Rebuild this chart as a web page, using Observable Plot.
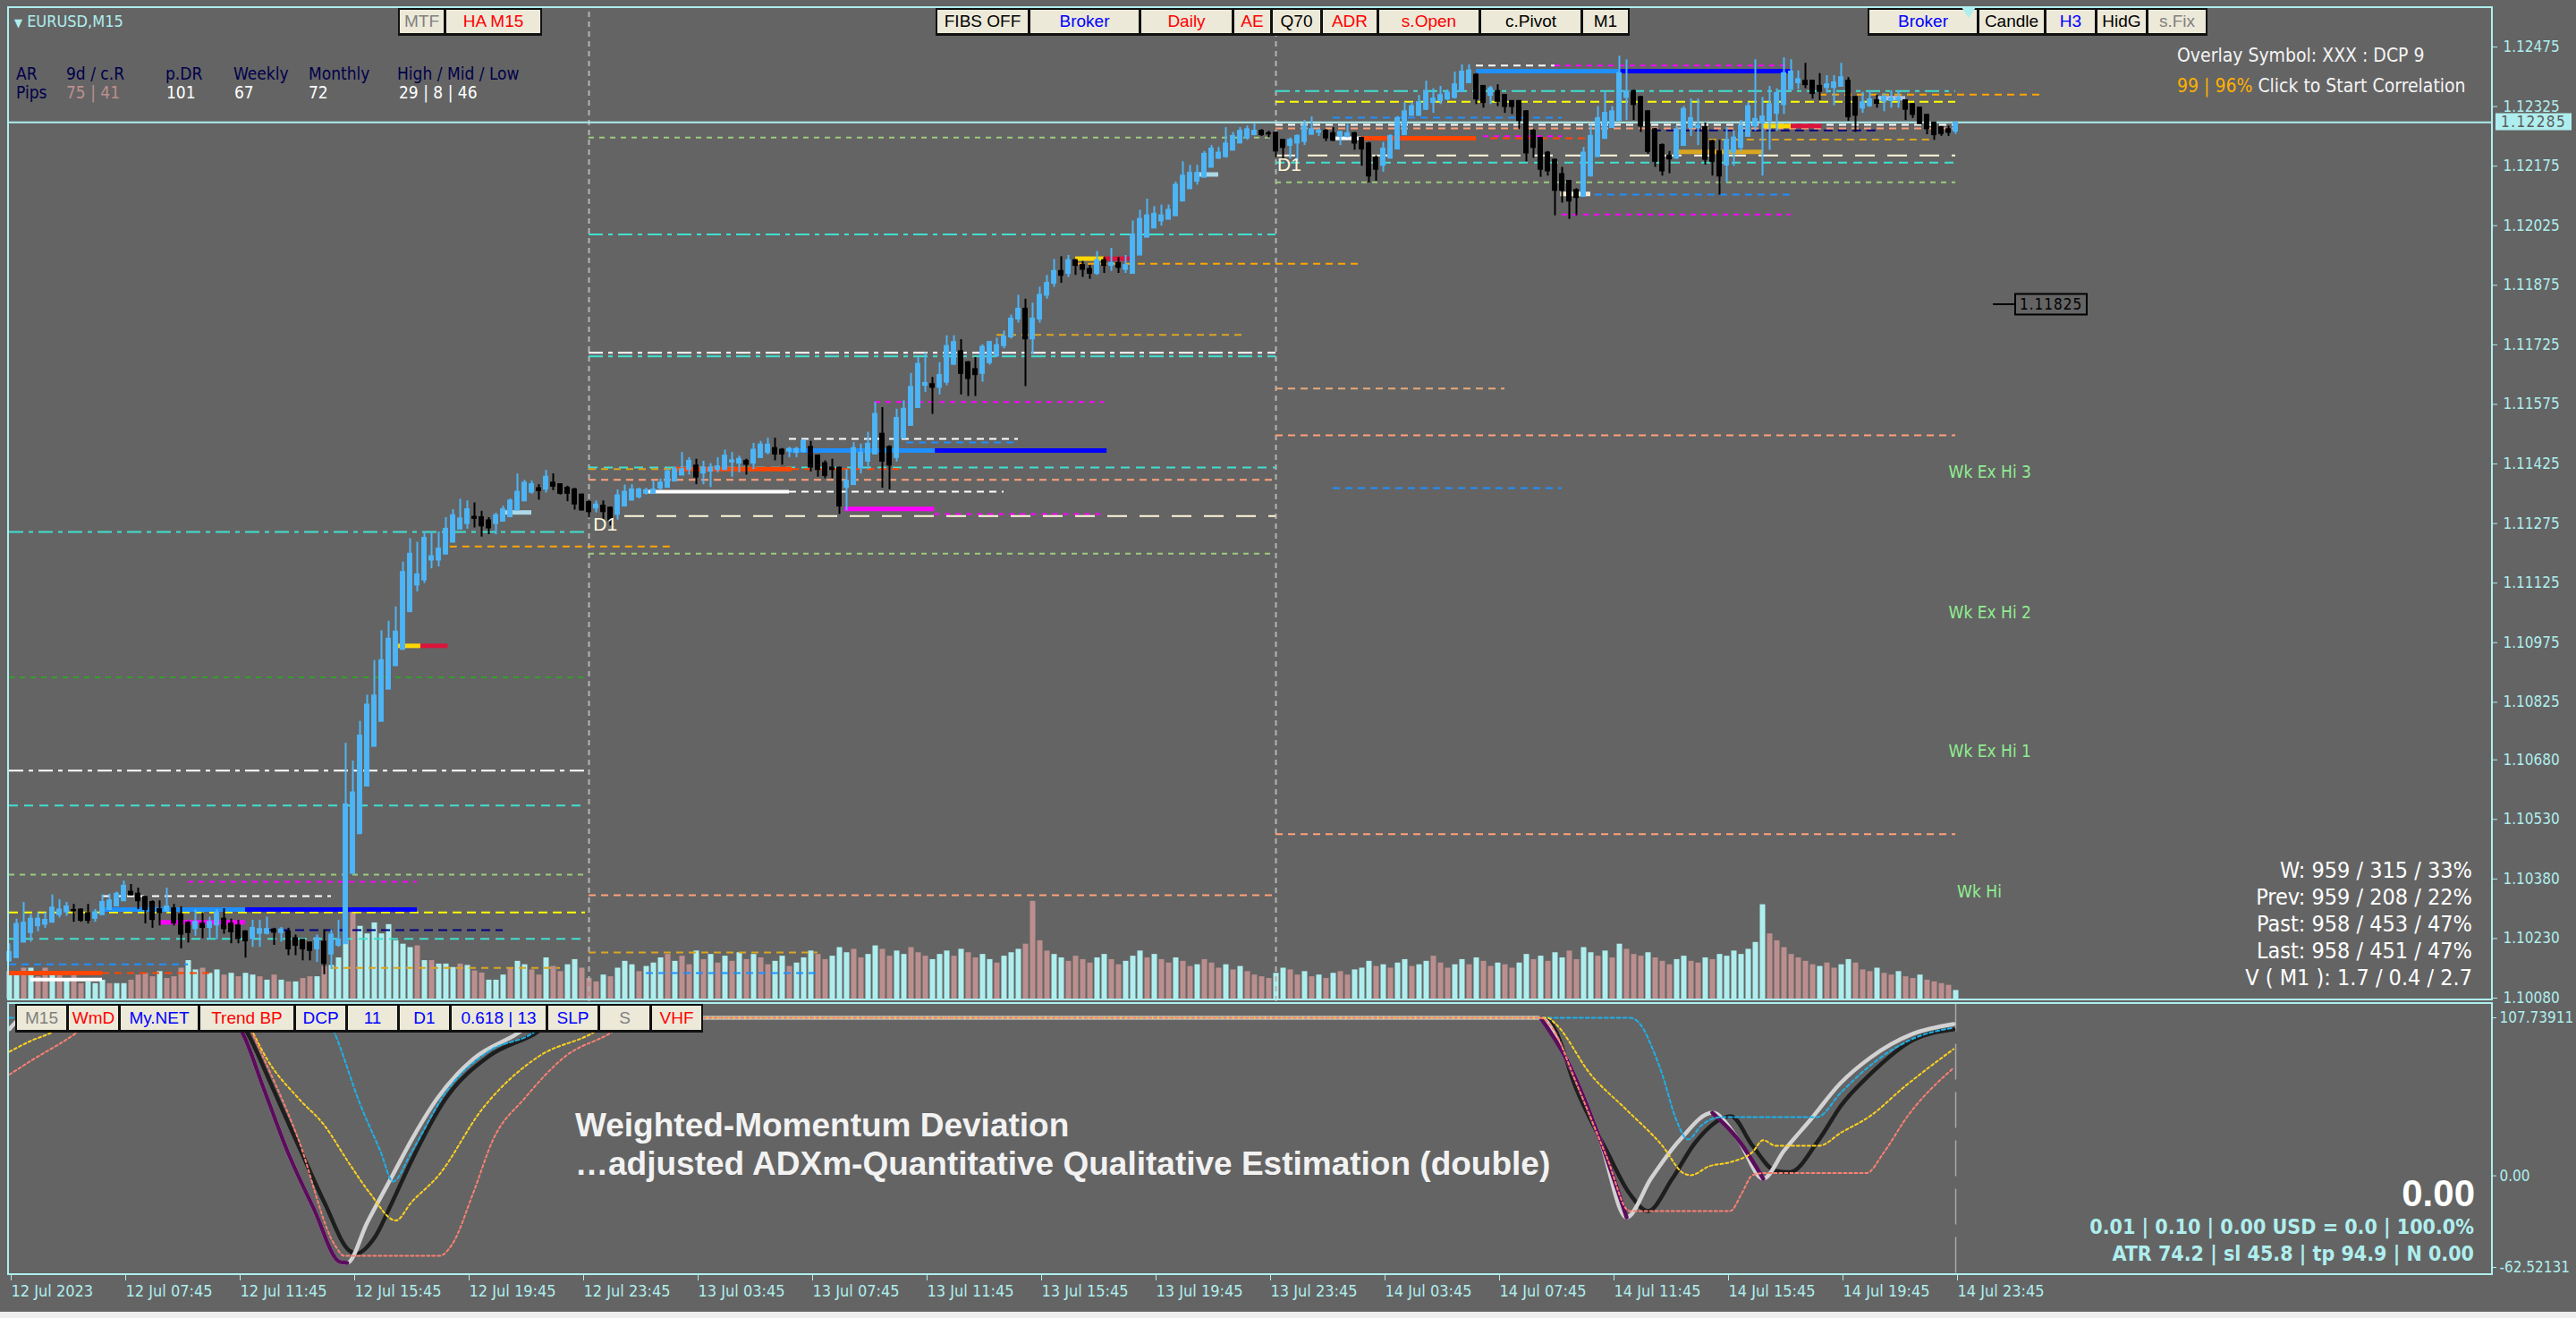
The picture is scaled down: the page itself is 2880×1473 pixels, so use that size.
<!DOCTYPE html>
<html><head><meta charset="utf-8">
<script src="https://cdn.jsdelivr.net/npm/d3@7"></script>
<script src="https://cdn.jsdelivr.net/npm/@observablehq/plot@0.6"></script>
<style>
html,body{margin:0;padding:0;background:#646464;}
#wrap{position:relative;width:2880px;height:1473px;overflow:hidden;background:#646464;font-family:"Liberation Sans",Arial,sans-serif;}
#wrap svg{position:absolute;left:0;top:0;}
.t{position:absolute;white-space:nowrap;line-height:1;}
.btn{position:absolute;box-sizing:border-box;background:#ECE9D8;border:2px solid #111;border-bottom-width:3px;text-align:center;font-size:19px;font-family:"Liberation Sans Narrow","Liberation Sans",Arial,sans-serif;display:flex;align-items:center;justify-content:center;}
.frame{position:absolute;box-sizing:border-box;border:2px solid #AFEEEE;}
</style></head>
<body><div id="wrap"></div>
<script>
// ---------------- DATA ----------------
const open = [1.10174,1.10182,1.10221,1.10245,1.10262,1.10266,1.10271,1.10290,1.10297,1.10301,
1.10302,1.10293,1.10281,1.10290,1.10303,1.10312,1.10325,1.10347,1.10342,1.10334,
1.10321,1.10303,1.10299,1.10305,1.10290,1.10269,1.10255,1.10267,1.10258,1.10264,
1.10279,1.10267,1.10262,1.10247,1.10230,1.10243,1.10243,1.10252,1.10245,1.10247,
1.10230,1.10226,1.10219,1.10204,1.10221,1.10191,1.10213,1.10217,1.10394,1.10494,
1.10614,1.10714,1.10777,1.10858,1.10917,1.10958,1.11053,1.11120,1.11133,1.11183,
1.11183,1.11198,1.11228,1.11261,1.11275,1.11291,1.11290,1.11282,1.11275,1.11281,
1.11292,1.11309,1.11332,1.11354,1.11363,1.11362,1.11377,1.11373,1.11364,1.11360,
1.11347,1.11328,1.11314,1.11319,1.11314,1.11298,1.11319,1.11334,1.11342,1.11351,
1.11351,1.11364,1.11366,1.11382,1.11397,1.11411,1.11420,1.11402,1.11407,1.11411,
1.11411,1.11430,1.11427,1.11432,1.11427,1.11441,1.11454,1.11464,1.11460,1.11457,
1.11454,1.11457,1.11467,1.11445,1.11426,1.11415,1.11415,1.11366,1.11373,1.11415,
1.11432,1.11450,1.11500,1.11467,1.11441,1.11490,1.11522,1.11567,1.11623,1.11625,
1.11618,1.11631,1.11676,1.11708,1.11680,1.11663,1.11653,1.11680,1.11697,1.11723,
1.11745,1.11790,1.11815,1.11740,1.11790,1.11850,1.11880,1.11910,1.11905,1.11937,
1.11925,1.11915,1.11905,1.11937,1.11925,1.11930,1.11915,1.11905,1.11951,1.11996,
1.12019,1.12037,1.12041,1.12050,1.12087,1.12118,1.12137,1.12147,1.12172,1.12195,
1.12199,1.12215,1.12233,1.12246,1.12254,1.12263,1.12257,1.12258,1.12240,1.12227,
1.12233,1.12237,1.12255,1.12260,1.12263,1.12257,1.12250,1.12250,1.12257,1.12245,
1.12231,1.12195,1.12177,1.12195,1.12218,1.12254,1.12303,1.12303,1.12318,1.12335,
1.12340,1.12344,1.12348,1.12363,1.12385,1.12404,1.12376,1.12353,1.12363,1.12353,
1.12338,1.12338,1.12312,1.12263,1.12245,1.12208,1.12190,1.12154,1.12137,1.12114,
1.12099,1.12150,1.12199,1.12245,1.12272,1.12290,1.12348,1.12363,1.12348,1.12312,
1.12267,1.12227,1.12201,1.12195,1.12227,1.12272,1.12272,1.12272,1.12237,1.12212,
1.12178,1.12210,1.12222,1.12250,1.12276,1.12284,1.12290,1.12308,1.12330,1.12368,
1.12385,1.12389,1.12389,1.12376,1.12373,1.12373,1.12376,1.12389,1.12348,1.12321,
1.12327,1.12340,1.12338,1.12340,1.12342,1.12340,1.12330,1.12321,1.12303,1.12284,
1.12272,1.12267,1.12263];
const high = [1.10217,1.10279,1.10321,1.10290,1.10295,1.10295,1.10340,1.10328,1.10321,1.10316,
1.10305,1.10316,1.10303,1.10340,1.10342,1.10347,1.10375,1.10366,1.10357,1.10338,
1.10325,1.10325,1.10357,1.10316,1.10310,1.10273,1.10302,1.10295,1.10284,1.10303,
1.10305,1.10279,1.10276,1.10250,1.10276,1.10276,1.10284,1.10256,1.10258,1.10256,
1.10239,1.10227,1.10221,1.10239,1.10252,1.10252,1.10276,1.10722,1.10677,1.10777,
1.10843,1.10930,1.11005,1.11029,1.11065,1.11178,1.11237,1.11228,1.11254,1.11254,
1.11254,1.11290,1.11310,1.11336,1.11332,1.11327,1.11306,1.11290,1.11301,1.11319,
1.11337,1.11400,1.11384,1.11382,1.11373,1.11409,1.11400,1.11375,1.11369,1.11364,
1.11349,1.11332,1.11332,1.11332,1.11317,1.11360,1.11372,1.11373,1.11364,1.11364,
1.11382,1.11387,1.11412,1.11418,1.11454,1.11441,1.11437,1.11432,1.11426,1.11441,
1.11460,1.11454,1.11445,1.11437,1.11477,1.11482,1.11490,1.11490,1.11464,1.11467,
1.11467,1.11486,1.11482,1.11448,1.11433,1.11437,1.11417,1.11411,1.11479,1.11475,
1.11505,1.11580,1.11567,1.11471,1.11563,1.11584,1.11653,1.11693,1.11704,1.11643,
1.11680,1.11748,1.11748,1.11738,1.11683,1.11693,1.11725,1.11734,1.11742,1.11760,
1.11800,1.11850,1.11840,1.11830,1.11870,1.11900,1.11940,1.11947,1.11950,1.11940,
1.11935,1.11925,1.11960,1.11945,1.11968,1.11945,1.11950,1.12037,1.12064,1.12092,
1.12073,1.12077,1.12077,1.12135,1.12186,1.12177,1.12177,1.12212,1.12227,1.12222,
1.12272,1.12260,1.12272,1.12276,1.12282,1.12267,1.12263,1.12261,1.12242,1.12246,
1.12254,1.12290,1.12299,1.12269,1.12267,1.12272,1.12263,1.12280,1.12260,1.12248,
1.12235,1.12201,1.12235,1.12254,1.12300,1.12335,1.12335,1.12353,1.12389,1.12370,
1.12376,1.12367,1.12412,1.12430,1.12430,1.12408,1.12378,1.12376,1.12380,1.12355,
1.12340,1.12340,1.12315,1.12267,1.12248,1.12212,1.12193,1.12172,1.12139,1.12118,
1.12222,1.12278,1.12325,1.12363,1.12325,1.12452,1.12443,1.12367,1.12351,1.12315,
1.12270,1.12231,1.12212,1.12276,1.12325,1.12344,1.12344,1.12284,1.12240,1.12240,
1.12272,1.12263,1.12290,1.12335,1.12443,1.12348,1.12376,1.12370,1.12448,1.12443,
1.12415,1.12434,1.12391,1.12408,1.12403,1.12403,1.12434,1.12398,1.12351,1.12361,
1.12365,1.12353,1.12358,1.12365,1.12365,1.12342,1.12333,1.12323,1.12305,1.12285,
1.12275,1.12276,1.12285];
const low = [1.10170,1.10181,1.10221,1.10221,1.10247,1.10256,1.10271,1.10282,1.10286,1.10271,
1.10271,1.10267,1.10271,1.10290,1.10302,1.10310,1.10325,1.10338,1.10303,1.10267,
1.10256,1.10262,1.10295,1.10262,1.10204,1.10219,1.10236,1.10230,1.10227,1.10227,
1.10241,1.10217,1.10217,1.10181,1.10208,1.10208,1.10239,1.10213,1.10221,1.10187,
1.10187,1.10174,1.10174,1.10170,1.10139,1.10152,1.10208,1.10217,1.10394,1.10494,
1.10614,1.10714,1.10777,1.10858,1.10917,1.10958,1.11053,1.11103,1.11124,1.11161,
1.11166,1.11198,1.11228,1.11261,1.11261,1.11264,1.11241,1.11247,1.11247,1.11280,
1.11292,1.11309,1.11332,1.11349,1.11334,1.11352,1.11358,1.11347,1.11330,1.11309,
1.11307,1.11289,1.11302,1.11283,1.11269,1.11284,1.11319,1.11332,1.11337,1.11347,
1.11349,1.11360,1.11366,1.11382,1.11396,1.11397,1.11373,1.11373,1.11366,1.11403,
1.11409,1.11392,1.11403,1.11397,1.11411,1.11439,1.11448,1.11433,1.11422,1.11441,
1.11441,1.11452,1.11405,1.11392,1.11388,1.11388,1.11298,1.11307,1.11373,1.11400,
1.11411,1.11448,1.11364,1.11360,1.11430,1.11490,1.11522,1.11567,1.11605,1.11550,
1.11599,1.11622,1.11674,1.11599,1.11595,1.11595,1.11631,1.11674,1.11693,1.11715,
1.11740,1.11780,1.11620,1.11700,1.11780,1.11840,1.11870,1.11880,1.11895,1.11900,
1.11895,1.11890,1.11900,1.11905,1.11910,1.11905,1.11905,1.11905,1.11951,1.11996,
1.12019,1.12024,1.12041,1.12050,1.12087,1.12118,1.12127,1.12147,1.12172,1.12192,
1.12195,1.12215,1.12233,1.12240,1.12254,1.12250,1.12246,1.12197,1.12193,1.12193,
1.12186,1.12227,1.12254,1.12250,1.12237,1.12237,1.12227,1.12246,1.12215,1.12175,
1.12133,1.12137,1.12160,1.12193,1.12216,1.12252,1.12300,1.12300,1.12315,1.12308,
1.12330,1.12340,1.12344,1.12360,1.12383,1.12330,1.12321,1.12330,1.12325,1.12308,
1.12305,1.12267,1.12186,1.12195,1.12147,1.12150,1.12050,1.12082,1.12041,1.12050,
1.12097,1.12148,1.12197,1.12242,1.12270,1.12288,1.12290,1.12290,1.12260,1.12205,
1.12172,1.12150,1.12156,1.12192,1.12225,1.12250,1.12227,1.12178,1.12150,1.12102,
1.12133,1.12175,1.12212,1.12248,1.12263,1.12150,1.12215,1.12263,1.12305,1.12367,
1.12368,1.12370,1.12344,1.12340,1.12359,1.12327,1.12374,1.12288,1.12260,1.12308,
1.12323,1.12321,1.12312,1.12321,1.12321,1.12290,1.12295,1.12280,1.12254,1.12240,
1.12250,1.12250,1.12255];
const close = [1.10195,1.10266,1.10269,1.10279,1.10279,1.10276,1.10307,1.10302,1.10310,1.10300,
1.10276,1.10276,1.10295,1.10321,1.10325,1.10342,1.10362,1.10340,1.10325,1.10303,
1.10278,1.10295,1.10310,1.10269,1.10241,1.10245,1.10271,1.10258,1.10271,1.10295,
1.10255,1.10247,1.10230,1.10224,1.10256,1.10253,1.10253,1.10246,1.10252,1.10204,
1.10213,1.10204,1.10200,1.10230,1.10167,1.10239,1.10227,1.10567,1.10597,1.10740,
1.10818,1.10841,1.10930,1.10984,1.11002,1.11152,1.11198,1.11146,1.11238,1.11192,
1.11211,1.11261,1.11295,1.11287,1.11310,1.11288,1.11269,1.11264,1.11295,1.11310,
1.11332,1.11354,1.11377,1.11373,1.11358,1.11392,1.11369,1.11351,1.11351,1.11324,
1.11309,1.11305,1.11322,1.11305,1.11283,1.11345,1.11354,1.11360,1.11360,1.11358,
1.11360,1.11377,1.11405,1.11411,1.11411,1.11432,1.11392,1.11415,1.11415,1.11418,
1.11445,1.11433,1.11437,1.11424,1.11460,1.11473,1.11473,1.11450,1.11450,1.11462,
1.11462,1.11482,1.11417,1.11411,1.11396,1.11411,1.11319,1.11382,1.11464,1.11452,
1.11475,1.11550,1.11432,1.11422,1.11540,1.11563,1.11618,1.11676,1.11628,1.11618,
1.11648,1.11721,1.11731,1.11653,1.11640,1.11650,1.11719,1.11731,1.11723,1.11745,
1.11790,1.11815,1.11740,1.11790,1.11850,1.11880,1.11910,1.11900,1.11937,1.11925,
1.11915,1.11905,1.11937,1.11925,1.11930,1.11920,1.11925,1.12002,1.12041,1.12050,
1.12054,1.12050,1.12064,1.12127,1.12150,1.12157,1.12157,1.12205,1.12218,1.12208,
1.12231,1.12250,1.12263,1.12267,1.12263,1.12254,1.12256,1.12213,1.12222,1.12240,
1.12250,1.12276,1.12267,1.12263,1.12246,1.12240,1.12260,1.12257,1.12233,1.12218,
1.12150,1.12167,1.12218,1.12250,1.12295,1.12312,1.12325,1.12335,1.12363,1.12344,
1.12353,1.12359,1.12380,1.12412,1.12415,1.12344,1.12335,1.12370,1.12338,1.12325,
1.12325,1.12290,1.12208,1.12222,1.12167,1.12163,1.12114,1.12114,1.12087,1.12096,
1.12208,1.12250,1.12295,1.12308,1.12312,1.12408,1.12363,1.12330,1.12276,1.12212,
1.12187,1.12163,1.12193,1.12267,1.12318,1.12295,1.12276,1.12192,1.12187,1.12150,
1.12240,1.12246,1.12276,1.12325,1.12293,1.12299,1.12330,1.12358,1.12408,1.12412,
1.12393,1.12380,1.12358,1.12363,1.12380,1.12385,1.12398,1.12299,1.12303,1.12335,
1.12342,1.12333,1.12348,1.12344,1.12345,1.12318,1.12305,1.12282,1.12269,1.12254,
1.12257,1.12260,1.12284];
const volume = [800,800,900,900,650,900,700,750,550,750,
450,500,450,550,450,450,450,550,700,750,
650,800,600,650,900,1120,850,900,750,850,
700,750,650,750,700,650,550,700,550,500,
500,600,650,650,950,980,1200,1700,2600,2120,
1900,2220,1900,2170,1700,1600,1500,1550,1120,1120,
1020,1020,920,1020,980,820,760,550,550,700,
900,1100,1000,850,700,1200,950,800,1000,1150,
900,600,500,700,650,900,1100,1000,800,950,
1050,1200,1300,1100,1250,1000,1400,1150,1300,1050,
1250,1100,1350,1150,1300,1200,1000,1100,1250,950,
1050,1200,1400,1300,1150,1250,1500,1350,1450,1200,
1300,1550,1450,1250,1400,1300,1500,1350,1250,1150,
1300,1400,1250,1450,1350,1200,1300,1150,1050,1250,
1350,1450,1600,2850,1700,1400,1300,1200,1100,1250,
1150,1050,1200,1300,1150,1000,1100,1250,1400,1200,
1300,1150,1050,1200,1100,950,1000,1150,1050,900,
1000,850,950,800,700,650,600,750,900,850,
700,800,650,700,600,750,800,700,850,900,
1100,950,1000,900,1050,1150,950,1000,1100,1250,
1050,900,1000,1150,1000,1200,1100,950,1050,1000,
900,1050,1300,1150,1250,1100,1350,1200,1400,1150,
1500,1350,1250,1400,1200,1600,1450,1300,1250,1350,
1200,1100,1000,1150,1250,1100,1050,1200,1150,1300,
1250,1400,1300,1450,1650,2750,1900,1700,1500,1300,
1200,1100,1000,950,1050,900,1000,1150,1050,850,
800,900,750,700,800,650,600,700,550,500,
450,400,250];
// volume bar colour read per bar, ten bars per entry: c = pale cyan, r = rosy
const volumeColourRows = ["ccrcrrcrcr","rcccrccrrr","rcrrrccrcc","rcrccrcrcr","crrcrcccrc","cccccccrcr","cccrcrrccc",
"rccrrcrrcc","rrrcrcccrc","ccrcrrcrcr","crcrcrrccr","cccrrcccrr","ccrrccrrrc","ccrcrrccrc","ccrrrrccrr","rrccrrcccr",
"crrcrrcrrr","crcrrrrccr","rcrcrcrrcc","crcrccrccr","rrccrcrrcr","rccrcrccrr","ccrcrcrrrc","rrrccrrcrc","ccccccrrrr",
"rrrcrrccrr","rcrrcrrcrr","rrc"];

const timeTickBars = [0,16,32,48,64,80,96,112,128,144,160,176,192,208,224,240,256,272];
const timeTickLabels = ["12 Jul 2023","12 Jul 07:45","12 Jul 11:45","12 Jul 15:45","12 Jul 19:45","12 Jul 23:45",
"13 Jul 03:45","13 Jul 07:45","13 Jul 11:45","13 Jul 15:45","13 Jul 19:45","13 Jul 23:45",
"14 Jul 03:45","14 Jul 07:45","14 Jul 11:45","14 Jul 15:45","14 Jul 19:45","14 Jul 23:45"];
const priceTicks = [1.12475,1.12325,1.12175,1.12025,1.11875,1.11725,1.11575,1.11425,1.11275,1.11125,1.10975,1.10825,1.10680,1.10530,1.10380,1.10230,1.10080];
const daySeparators = [81,177];
const lastPrice = 1.12285;
const panelTop = 1.12574, panelBottom = 1.10071;

const levelPrice = [1.11254,1.11217,1.10653,1.10565,1.10888,1.10391,1.10373,1.10337,1.10303,1.10303,1.10296,1.10271,1.10251,1.10229,1.10165,1.10156,1.10143,1.10143,1.10127,1.10967,1.10967,1.11303,
1.12003,1.11705,1.11696,1.11581,1.11488,1.11479,1.11459,1.11459,1.11416,1.11412,1.11412,1.11412,1.11385,1.11355,1.11355,1.11312,1.11299,1.11294,1.11199,1.11929,1.11750,1.12247,1.11942,1.11942,1.12154,1.10339,1.10195,1.10143,
1.12364,1.12337,1.12297,1.12279,1.12270,1.12245,1.12245,1.12245,1.12250,1.12202,1.12184,1.12134,1.12211,1.12265,1.12242,1.12276,1.12276,1.12414,1.12414,1.12428,1.12428,1.12105,1.12103,1.12053,1.12355,1.12346,1.11615,1.11497,1.11364,1.10493];
const levelFrom = [0,61.6,0,0,0,0,25,13,13,33,0,21,36,0,0,45,0,13,3,54,57.5,69,
81,81,81,121,109,125.4,109,129.4,81,81,93,109.4,81,89,109,116.7,129.3,86,81,149,138,81,149,153,166,81,81,89,
177,177,185,177,177,185,189,207,206,177,177,177,233,229.6,237.6,245,249,205,225,205,216,216.8,221.6,217,253,261,177,177,185,177];
const levelTo = [80.5,93,80.5,80.5,80.5,80.5,57,45,33,57,80.5,33,69,80.5,25,77,13,28,13,57.5,61.3,73,
177,177,177,153,141,141,129.4,153.4,177,93,109.4,125,177,109,139,129.3,153,177,177,189,173,177,153,157,169,177,113,113,
272,272,217,272,272,189,205,221,217,272,272,272,245,261,269,249,253.3,225,249,216,249,221,249,249,284,265,209,272,217,272];
const levelKind = ["cyanDashDot","orangeDash","whiteDashDot","cyanDash","greenDash","lightGreenDash","magentaDash","whiteDash","lightBlueThick","blueThick","yellowDash","magentaThick","navyDash","cyanDash","blueDash","goldDash","redThick","redDash","whiteThick","yellowThick","crimsonThick","paleThick",
"cyanDashDot","whiteDashDot","cyanDashDot","magentaDash","whiteDash","blueDash","lightBlueThick","blueThick","cyanDash","goldDash","redThick","redDash","salmonDash","whiteThick","whiteDash","magentaThick","magentaDash","creamDash","lightGreenDash","orangeDash","goldDash","lightGreenDash","yellowThick","crimsonThick","paleThick","salmonDash","goldDash","blueDash",
"cyanDashDot","yellowDash","blueDash","whiteDash","salmonDash","whiteThick","redThick","redDash","magentaDash","creamDash","cyanDash","lightGreenDash","goldThick","navyDash","goldDash","yellowThick","crimsonThick","lightBlueThick","blueThick","whiteDash","magentaDash","creamThick","blueDash","magentaDash","orangeDash","slateThick","peachDash","salmonDash","blueDash","salmonDash"];

const weekLabelText = ["Wk Ex Hi 3","Wk Ex Hi 2","Wk Ex Hi 1","Wk Hi"];
const weekLabelPrice = [1.11403,1.11050,1.10700,1.10348];
const weekLabelBar = [271,271,271,272.2];
const dayLabelBar = [81.6,177.2];
const dayLabelPrice = [1.11272,1.12179];
const markerPrice = 1.11825;

// indicator series: [bar, value]
const mainLine = [[0,100],[2,107.7],[31,107.7],[32.5,98],[35.5,60],[38.9,16.2],[42.5,-22],[46.2,-58.8],[47.2,-59.5],[50,-32],[53.3,-2],[56.5,27],[59.8,52.8],[64.8,79.6],[70.5,95.5],[75,107.7],[214,107.7],[217.6,79.6],[222.3,24.7],[226,-28.3],[229.4,-2],[233.5,24.7],[238,43],[241.6,24.7],[245.1,-2],[248,17],[251.8,38.8],[255.9,63.2],[260,80.3],[266,96.8],[271.7,103.5]];
const slowLine = [[0,100],[2,107.7],[32,107.7],[33.2,98],[36.8,60],[40.4,20.5],[44,-18],[47.5,-51],[48.5,-53],[51,-42.4],[53.5,-18],[56,8.3],[61,52.8],[67,81.5],[73.4,96.8],[77,107.7],[214,107.7],[215.6,103],[219,59],[223.3,16.2],[226.4,-12],[229,-24],[232.4,-2],[235.5,22],[240.6,40.6],[243.6,20.5],[246.8,3.4],[248.8,2.4],[252.9,24.7],[256,48],[260,69],[266,92.5],[271.7,99.8]];
const cyanLine = [[0,107.7],[44.5,107.7],[45.4,98],[49,49.1],[51.9,16.2],[53.6,-3.9],[56.2,16.2],[61,57],[67,85],[73,96.8],[76,107.7],[226.5,107.7],[228.4,99.8],[229.4,89.4],[231,69],[232.9,38.8],[234.6,24.7],[236.5,34.5],[239.3,40],[252.6,40],[256,57],[260,75],[266,93.4],[271.7,101]];
const yellowLine = [[0,84.6],[3,92],[6,98],[9,107.7],[33,107.7],[34,98],[36,79.6],[40.4,52.8],[44,34.5],[47.5,8.3],[50.4,-12],[54,-30.5],[56.2,-18],[60,0.4],[66,45],[74,81.5],[81.3,96.8],[85,107.7],[215,107.7],[216,104],[221,69],[226,45],[231,20.5],[234,1.6],[235,0.4],[237.5,6.4],[240.6,9.4],[243.6,16.2],[245.1,24.3],[246.8,20.5],[252.9,20.5],[256,29.5],[260,40.6],[265,61.4],[271.7,86.4]];
const salmonLine = [[0,69],[3.2,79],[9.5,98],[12,107.7],[33,107.7],[34,96.8],[40.4,24.7],[45.4,-46.6],[46.8,-54.6],[60.1,-54.6],[61.9,-46.6],[64.8,-12],[67.6,24.7],[72,52.8],[77.7,81.5],[84.2,98],[87,107.7],[214,107.7],[215.6,101],[219,63],[223.3,12],[226.4,-24],[240.5,-24],[242.1,-12],[243.6,0.4],[245.1,1.8],[259.5,1.8],[262,16.2],[265,38.8],[271.7,73.6]];
const indTicks = [107.73911, 0, -62.52131];
const indTickLabels = ["107.73911","0.00","-62.52131"];

// ---------------- DRAW ----------------
const wrap = document.getElementById("wrap");
const FONT = "'Liberation Sans', Arial, sans-serif";
const NARROW = "'Liberation Sans Narrow', 'DejaVu Sans Condensed', 'Liberation Sans', sans-serif";
const X = {domain: [0, 272], range: [10, 2186]};
const baseStyle = {background: "transparent", overflow: "visible", fontFamily: NARROW, color: "#AFEEEE"};

const volumeColour = volumeColourRows.join("");
const candles = open.map((o, i) => ({i, o, h: high[i], l: low[i], c: close[i], up: close[i] >= o}));
const vols = volume.map((v, i) => ({i, v, up: volumeColour[i] === "c"}));

const levelStyle = {
  cyanDashDot: {stroke: "#40E0D0", strokeWidth: 2, strokeDasharray: "16,6,5,6"},
  cyanDash: {stroke: "#40E0D0", strokeWidth: 2, strokeDasharray: "10,7"},
  whiteDashDot: {stroke: "#FFFFFF", strokeWidth: 2, strokeDasharray: "16,6,5,6"},
  whiteDash: {stroke: "#FFFFFF", strokeWidth: 2, strokeDasharray: "8,6"},
  yellowDash: {stroke: "#FFFF00", strokeWidth: 2, strokeDasharray: "10,6"},
  greenDash: {stroke: "#34A02A", strokeWidth: 2, strokeDasharray: "6,6"},
  lightGreenDash: {stroke: "#9CCB7C", strokeWidth: 2, strokeDasharray: "6,6"},
  magentaDash: {stroke: "#FF00FF", strokeWidth: 2, strokeDasharray: "6,6"},
  magentaThick: {stroke: "#FF00FF", strokeWidth: 5},
  lightBlueThick: {stroke: "#1E90FF", strokeWidth: 5},
  blueThick: {stroke: "#0000FF", strokeWidth: 5},
  navyDash: {stroke: "#000080", strokeWidth: 2, strokeDasharray: "10,6"},
  blueDash: {stroke: "#1E90FF", strokeWidth: 2, strokeDasharray: "8,6"},
  orangeDash: {stroke: "#FFA500", strokeWidth: 2, strokeDasharray: "8,6"},
  goldDash: {stroke: "#DAA520", strokeWidth: 2, strokeDasharray: "8,6"},
  goldThick: {stroke: "#DAA520", strokeWidth: 5},
  salmonDash: {stroke: "#FFA07A", strokeWidth: 2, strokeDasharray: "8,6"},
  peachDash: {stroke: "#E8A878", strokeWidth: 2, strokeDasharray: "8,6"},
  redThick: {stroke: "#FF4500", strokeWidth: 5},
  redDash: {stroke: "#FF4500", strokeWidth: 2, strokeDasharray: "8,6"},
  crimsonThick: {stroke: "#DC143C", strokeWidth: 5},
  yellowThick: {stroke: "#FFD700", strokeWidth: 5},
  whiteThick: {stroke: "#FFFFFF", strokeWidth: 4},
  creamDash: {stroke: "#FFF8DC", strokeWidth: 2, strokeDasharray: "22,14"},
  creamThick: {stroke: "#FFEBD2", strokeWidth: 5},
  paleThick: {stroke: "#ADD8E6", strokeWidth: 5},
  slateThick: {stroke: "#B0C4DE", strokeWidth: 5}
};
const levels = levelPrice.map((p, k) => ({p, a: levelFrom[k], b: levelTo[k], kind: levelKind[k]}));
const levelMarks = Object.keys(levelStyle).map(kind =>
  Plot.ruleY(levels.filter(d => d.kind === kind), {y: "p", x1: "a", x2: "b", ...levelStyle[kind]}));

const BLUE = "#4DB5F6";
const tickLabelMap = new Map(priceTicks.map(d => [d, d.toFixed(5)]));

// volume layer
const volPlot = Plot.plot({
  width: 2880, height: 1473, marginTop: 0, marginLeft: 9, marginRight: 95, marginBottom: 0,
  x: {...X, axis: null}, y: {domain: [0, 3000], range: [1116, 1001], axis: null},
  style: baseStyle,
  marks: [
    Plot.ruleX(vols, {x: "i", y1: () => 0, y2: "v", stroke: d => d.up ? "#AFEEEE" : "#BC8F8F", strokeWidth: 6})
  ]
});
wrap.appendChild(volPlot);

// price layer
const mainPlot = Plot.plot({
  width: 2880, height: 1473, marginTop: 0, marginLeft: 9, marginRight: 95, marginBottom: 0,
  x: {...X, axis: null}, y: {domain: [1.10080, 1.12475], range: [1115, 52]},
  style: baseStyle,
  marks: [
    Plot.ruleX(daySeparators, {x: d => d, y1: () => panelBottom, y2: () => panelTop, stroke: "#B4B4B4", strokeWidth: 2, strokeDasharray: "6,5"}),
    ...levelMarks,
    Plot.ruleY([lastPrice], {stroke: "#AFEEEE", strokeWidth: 2}),
    Plot.ruleX(candles, {x: "i", y1: "l", y2: "h", stroke: d => d.up ? BLUE : "#000000", strokeWidth: 2}),
    Plot.rect(candles, {x1: d => d.i - 0.37, x2: d => d.i + 0.37, y1: d => Math.min(d.o, d.c), y2: d => Math.max(d.o, d.c),
      fill: d => d.up ? BLUE : "#000000", insetTop: -1, insetBottom: -1}),
    Plot.text(weekLabelText, {x: (d, k) => weekLabelBar[k], y: (d, k) => weekLabelPrice[k], text: d => d,
      fill: "#90EE90", fontSize: 19, textAnchor: "start", fontFamily: NARROW}),
    Plot.text(["D1", "D1"], {x: (d, k) => dayLabelBar[k], y: (d, k) => dayLabelPrice[k], text: d => d,
      fill: "#FFF8DC", fontSize: 21, textAnchor: "start", fontFamily: FONT}),
    Plot.axisY({anchor: "right", ticks: priceTicks, tickFormat: d => tickLabelMap.get(d), tickSize: 6, tickPadding: 7,
      fontSize: 17, label: null, fontFamily: NARROW, letterSpacing: "1.4px"})
  ]
});
wrap.appendChild(mainPlot);

// indicator layer
const purplePts = [];
{
  let run = -1, inRun = false;
  for (let k = 1; k < mainLine.length; k++) {
    const [x0, v0] = mainLine[k - 1], [x1, v1] = mainLine[k];
    if (v1 < v0) {
      if (!inRun) { run++; inRun = true; purplePts.push({x: x0, v: v0, run}); }
      purplePts.push({x: x1, v: v1, run});
    } else inRun = false;
  }
}
const asPts = arr => arr.map(([x, v]) => ({x, v}));
const timeLabelMap = new Map(timeTickBars.map((b, k) => [b, timeTickLabels[k]]));
const indLabelMap = new Map(indTicks.map((t, k) => [t, indTickLabels[k]]));
const indPlot = Plot.plot({
  width: 2880, height: 1473, marginTop: 0, marginLeft: 9, marginRight: 95, marginBottom: 50,
  x: {...X}, y: {domain: [-62.52131, 107.73911], range: [1416, 1137]},
  style: baseStyle,
  marks: [
    Plot.ruleX([272], {x: d => d, y1: () => -66.5, y2: () => 117, stroke: "#A8A8A8", strokeWidth: 1.5, strokeDasharray: "40,14"}),
    Plot.line(asPts(slowLine), {x: "x", y: "v", stroke: "#1E1E1E", strokeWidth: 4.5, curve: "monotone-x"}),
    Plot.line(asPts(mainLine), {x: "x", y: "v", stroke: "#D2D2D2", strokeWidth: 4.5, curve: "monotone-x"}),
    Plot.line(purplePts, {x: "x", y: "v", z: "run", stroke: "#5C0C5C", strokeWidth: 4.5, curve: "monotone-x"}),
    Plot.line(asPts(cyanLine), {x: "x", y: "v", stroke: "#1EB0E8", strokeWidth: 2, strokeDasharray: "4,3", curve: "monotone-x"}),
    Plot.line(asPts(yellowLine), {x: "x", y: "v", stroke: "#FFD21E", strokeWidth: 2, strokeDasharray: "3,3", curve: "monotone-x"}),
    Plot.line(asPts(salmonLine), {x: "x", y: "v", stroke: "#FA8072", strokeWidth: 2, strokeDasharray: "3,3", curve: "monotone-x"}),
    Plot.axisY({anchor: "right", ticks: indTicks, tickFormat: d => indLabelMap.get(d), tickSize: 5, tickPadding: 4,
      fontSize: 17, label: null, fontFamily: NARROW, letterSpacing: "1.4px"}),
    Plot.axisX({anchor: "bottom", ticks: timeTickBars, tickFormat: d => timeLabelMap.get(d), tickSize: 8, tickPadding: 5,
      textAnchor: "start", dx: 2, fontSize: 18, label: null, fontFamily: NARROW})
  ]
});
wrap.appendChild(indPlot);

// ---------- decorations (frames, buttons, texts) ----------
function frame(x1, y1, x2, y2) {
  const d = document.createElement("div"); d.className = "frame";
  Object.assign(d.style, {left: x1 + "px", top: y1 + "px", width: (x2 - x1) + "px", height: (y2 - y1) + "px"});
  wrap.appendChild(d);
}
frame(8, 7, 2787, 1118);
frame(8, 1120, 2787, 1425);
const band = document.createElement("div");
Object.assign(band.style, {position: "absolute", left: "0px", top: "1466px", width: "2880px", height: "7px", background: "#EEEEEE"});
wrap.appendChild(band);

function txt(x, y, s, opts = {}) {
  const d = document.createElement("div"); d.className = "t"; d.textContent = s;
  const st = {top: y + "px", fontSize: (opts.size || 16) + "px", color: opts.color || "#fff",
    fontFamily: opts.font || FONT, fontWeight: opts.bold ? "bold" : "normal", transform: "translateY(-50%)"};
  if (opts.right) st.right = (2880 - x) + "px"; else st.left = x + "px";
  Object.assign(d.style, st);
  wrap.appendChild(d);
  return d;
}
function html(x, y, h, opts = {}) {
  const d = txt(x, y, "", opts); d.innerHTML = h; return d;
}
const topButtons = [["MTF",445,497,"#808080"],["HA M15",497,605,"#FF0000"],["FIBS OFF",1046,1150,"#000000"],["Broker",1150,1274,"#0000FF"],
["Daily",1274,1378,"#FF0000"],["AE",1378,1421,"#FF0000"],["Q70",1421,1477,"#000000"],["ADR",1477,1540,"#FF0000"],["s.Open",1540,1654,"#FF0000"],
["c.Pivot",1654,1768,"#000000"],["M1",1768,1821,"#000000"],["Broker",2088,2211,"#0000FF"],["Candle",2211,2286,"#000000"],["H3",2286,2343,"#0000FF"],
["HidG",2343,2400,"#000000"],["s.Fix",2400,2467,"#808080"]];
const bottomButtons = [["M15",17,75,"#808080"],["WmD",75,133,"#FF0000"],["My.NET",133,222,"#0000FF"],["Trend BP",222,329,"#FF0000"],
["DCP",329,387,"#0000FF"],["11",387,445,"#0000FF"],["D1",445,503,"#0000FF"],["0.618 | 13",503,611,"#0000FF"],["SLP",611,669,"#0000FF"],
["S",669,727,"#808080"],["VHF",727,785,"#FF0000"]];
function button(label, x1, x2, color, y1, y2) {
  const d = document.createElement("div"); d.className = "btn"; d.textContent = label;
  Object.assign(d.style, {left: x1 + "px", top: y1 + "px", width: (x2 - x1 + 1) + "px", height: (y2 - y1) + "px", color});
  wrap.appendChild(d);
}
topButtons.forEach(([l, a, b, c]) => button(l, a, b, c, 9, 40));
bottomButtons.forEach(([l, a, b, c]) => button(l, a, b, c, 1122, 1154));

// chart shift marker
const tri = document.createElement("div");
Object.assign(tri.style, {position: "absolute", left: "2193px", top: "8px", width: 0, height: 0,
  borderLeft: "8px solid transparent", borderRight: "8px solid transparent", borderTop: "12px solid #AFEEEE"});
wrap.appendChild(tri);

// header
html(16, 24, '<span style="font-size:13px">&#9660;</span> EURUSD,M15', {size: 18, color: "#AFEEEE", font: NARROW});
const hdrNavy = "#00004A";
[["AR",18],["9d / c.R",74],["p.DR",185],["Weekly",261],["Monthly",345],["High / Mid / Low",444]].forEach(([s, x]) =>
  txt(x, 82, s, {size: 19, color: hdrNavy, font: NARROW}));
txt(18, 103, "Pips", {size: 19, color: hdrNavy, font: NARROW});
txt(74, 103, "75 | 41", {size: 19, color: "#BC8F8F", font: NARROW});
[["101",186],["67",262],["72",345],["29  |  8  |  46",446]].forEach(([s, x]) => txt(x, 103, s, {size: 19, color: "#FFFFFF", font: NARROW}));

// top-right overlay info
txt(2434, 62, "Overlay Symbol: XXX : DCP 9", {size: 21, color: "#F4F4F4", font: NARROW});
html(2434, 96, '<span style="color:#FFB000">99 | 96%</span> Click to Start Correlation', {size: 21, color: "#F4F4F4", font: NARROW});

// right statistics
["W: 959 / 315 / 33%","Prev: 959 / 208 / 22%","Past: 958 / 453 / 47%","Last: 958 / 451 / 47%","V ( M1 ): 1.7 / 0.4 / 2.7"]
  .forEach((s, k) => txt(2764, 972 + 30 * k, s, {size: 25, color: "#FFFFFF", font: NARROW, right: true}));

// indicator texts
txt(643, 1257, "Weighted-Momentum Deviation", {size: 37, color: "#F2F2F2", bold: true});
txt(643, 1300, "\u2026adjusted ADXm-Quantitative Qualitative Estimation (double)", {size: 37, color: "#F2F2F2", bold: true});
txt(2767, 1334, "0.00", {size: 42, color: "#FFFFFF", bold: true, right: true});
txt(2766, 1371, "0.01  |  0.10  |  0.00 USD = 0.0  |  100.0%", {size: 23, color: "#AFEEEE", bold: true, right: true, font: NARROW});
txt(2766, 1401, "ATR 74.2  |  sl 45.8  |  tp 94.9  |  N 0.00", {size: 23, color: "#AFEEEE", bold: true, right: true, font: NARROW});

// current price box on axis, and 1.11825 marker, positioned with the plot's scale
const yS = mainPlot.scale("y");
const yLast = yS.apply(lastPrice);
const box = txt(2790, yLast, lastPrice.toFixed(5), {size: 17, color: "#5A5A5A", font: NARROW});
Object.assign(box.style, {background: "#AFEEEE", padding: "1px 6px 1px 6px", letterSpacing: "1.4px"});
const yMark = yS.apply(markerPrice);
const mk = txt(2252, yMark, markerPrice.toFixed(5), {size: 17, color: "#000000", font: NARROW});
Object.assign(mk.style, {border: "2px solid #000", padding: "2px 4px", letterSpacing: "1px"});
const mline = document.createElement("div");
Object.assign(mline.style, {position: "absolute", left: "2228px", top: (yMark - 1) + "px", width: "24px", height: "2px", background: "#000"});
wrap.appendChild(mline);
</script>
</body></html>
